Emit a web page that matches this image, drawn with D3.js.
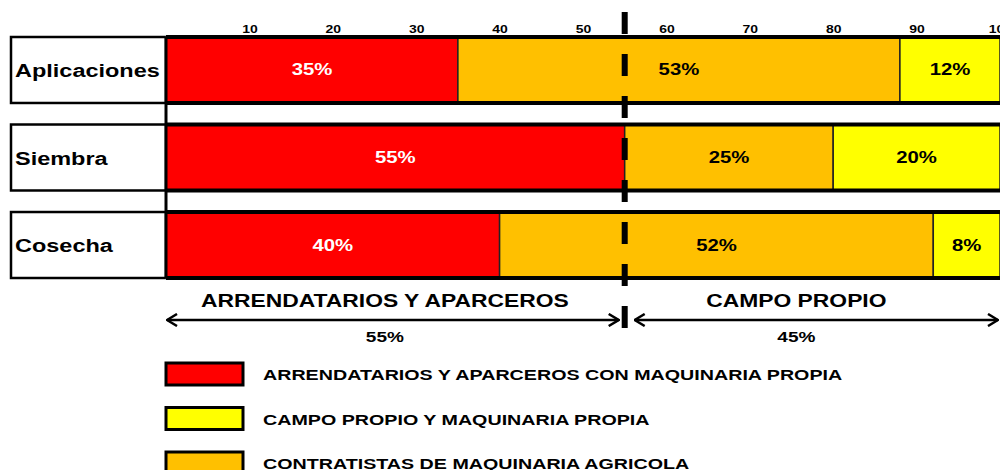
<!DOCTYPE html>
<head>
	<meta charset="utf-8">
	<style>
		body { margin: 0; background: #fff; }
		svg { display: block; font-family: "Liberation Sans", Arial, sans-serif; font-weight: bold; }
		.axis path { display: none; }
		.axis text { font-size: 11px; fill: #000; font-family: "Liberation Sans", Arial, sans-serif; font-weight: bold; }
	</style>
	<title>Maquinaria</title>
	<script src="https://d3js.org/d3.v7.min.js"></script>
</head>
<body>
	<div id="chart"></div>
	<script>
		// data
		var categories = ["Aplicaciones", "Siembra", "Cosecha"];
		var arrendatarios = [35, 55, 40];   // red
		var contratistas = [53, 25, 52];    // orange
		var campoPropio = [12, 20, 8];      // yellow
		var tickValues = [10, 20, 30, 40, 50, 60, 70, 80, 90, 100];
		var groupBreaks = [0, 55, 100];
		var groupLabels = ["ARRENDATARIOS Y APARCEROS", "CAMPO PROPIO"];
		var groupPcts = ["55%", "45%"];
		var legendLabels = [
			"ARRENDATARIOS Y APARCEROS CON MAQUINARIA PROPIA",
			"CAMPO PROPIO Y MAQUINARIA PROPIA",
			"CONTRATISTAS DE MAQUINARIA AGRICOLA"
		];

		var keys = ["arr", "con", "campo"];
		var colors = { arr: "#ff0000", con: "#ffc000", campo: "#ffff00" };
		var legendKeys = ["arr", "campo", "con"];
		var SX = 1.27; // the original is stretched sideways

		var width = 1000, height = 470;
		var svg = d3.select("#chart").append("svg")
			.attr("width", width)
			.attr("height", height);

		var x = d3.scaleLinear().domain([0, 100]).range([166, 1000]);
		var y = d3.scaleBand().domain(categories).range([37, 278])
			.paddingInner(0.246).paddingOuter(0);

		function wideText(parent, px, py, txt, size, anchor, fill) {
			var g = parent.append("g")
				.attr("transform", "translate(" + px + "," + py + ") scale(" + SX + ",1)");
			g.append("text")
				.attr("text-anchor", anchor || "middle")
				.style("font-size", size + "px")
				.attr("fill", fill || "#000")
				.text(txt);
			return g;
		}

		var rows = categories.map(function (c, i) {
			return { cat: c, arr: arrendatarios[i], con: contratistas[i], campo: campoPropio[i] };
		});
		var layers = d3.stack().keys(keys)(rows);

		// label boxes
		svg.selectAll(".catbox").data(categories).enter().append("rect")
			.attr("class", "catbox")
			.attr("x", 11).attr("y", function (d) { return y(d); })
			.attr("width", x(0) - 11).attr("height", y.bandwidth())
			.attr("fill", "#fff").attr("stroke", "#000").attr("stroke-width", 2.5);

		categories.forEach(function (c) {
			wideText(svg, 15, y(c) + y.bandwidth() / 2 + 7, c, 18.5, "start");
		});

		// bar segments
		var layer = svg.selectAll(".layer").data(layers).enter().append("g")
			.attr("class", "layer")
			.attr("fill", function (d) { return colors[d.key]; });

		layer.selectAll("rect").data(function (d) { return d; }).enter().append("rect")
			.attr("x", function (d) { return x(d[0]); })
			.attr("y", function (d) { return y(d.data.cat); })
			.attr("width", function (d) { return x(d[1]) - x(d[0]); })
			.attr("height", y.bandwidth())
			.attr("stroke", "#222").attr("stroke-width", 1.5);

		layers.forEach(function (l) {
			l.forEach(function (d) {
				wideText(svg, (x(d[0]) + x(d[1])) / 2, y(d.data.cat) + y.bandwidth() / 2 + 5.5,
					(d[1] - d[0]) + "%", 16, "middle", l.key === "arr" ? "#fff" : "#000");
			});
		});

		// thick top / bottom borders of bars
		categories.forEach(function (c) {
			[y(c), y(c) + y.bandwidth()].forEach(function (yy) {
				svg.append("line")
					.attr("x1", x(0)).attr("x2", x(100))
					.attr("y1", yy).attr("y2", yy)
					.attr("stroke", "#000").attr("stroke-width", 4);
			});
		});

		// left axis line
		svg.append("line")
			.attr("x1", x(0)).attr("x2", x(0))
			.attr("y1", y(categories[0])).attr("y2", y(categories[2]) + y.bandwidth())
			.attr("stroke", "#000").attr("stroke-width", 3);

		// top ticks
		var axis = svg.append("g")
			.attr("class", "axis")
			.attr("transform", "translate(0," + y(categories[0]) + ")")
			.call(d3.axisTop(x).tickValues(tickValues).tickSize(0).tickPadding(4));
		axis.selectAll("text").attr("transform", "scale(" + SX + ",1)");

		// dashed divider
		svg.append("line")
			.attr("x1", x(groupBreaks[1])).attr("x2", x(groupBreaks[1]))
			.attr("y1", 12).attr("y2", 328)
			.attr("stroke", "#000").attr("stroke-width", 6)
			.attr("stroke-dasharray", "22 20");

		// arrows
		var defs = svg.append("defs");
		defs.append("marker")
			.attr("id", "chev")
			.attr("viewBox", "0 0 12 14")
			.attr("refX", 11).attr("refY", 7)
			.attr("markerWidth", 12).attr("markerHeight", 14)
			.attr("markerUnits", "userSpaceOnUse")
			.attr("orient", "auto-start-reverse")
			.append("path")
			.attr("d", "M1,1 L11,7 L1,13")
			.attr("fill", "none").attr("stroke", "#000").attr("stroke-width", 2.5);

		groupLabels.forEach(function (lab, i) {
			var a = x(groupBreaks[i]) + (i === 0 ? 1 : 10);
			var b = x(groupBreaks[i + 1]) - (i === 0 ? 6 : 2);
			svg.append("line")
				.attr("x1", a).attr("x2", b)
				.attr("y1", 320).attr("y2", 320)
				.attr("stroke", "#000").attr("stroke-width", 2.5)
				.attr("marker-start", "url(#chev)")
				.attr("marker-end", "url(#chev)");
			var mid = (a + b) / 2;
			wideText(svg, mid - (i === 0 ? 8 : 20), 307, lab, 18, "middle");
			wideText(svg, mid - (i === 0 ? 8 : 20), 342, groupPcts[i], 15, "middle");
		});

		// legend
		legendKeys.forEach(function (k, i) {
			var top = 363 + i * 44.5;
			svg.append("rect")
				.attr("x", 166).attr("y", top)
				.attr("width", 77).attr("height", 22)
				.attr("fill", colors[k])
				.attr("stroke", "#000").attr("stroke-width", 3);
			wideText(svg, 263, top + 17, legendLabels[i], 15.5, "start");
		});
	</script>
</body>
